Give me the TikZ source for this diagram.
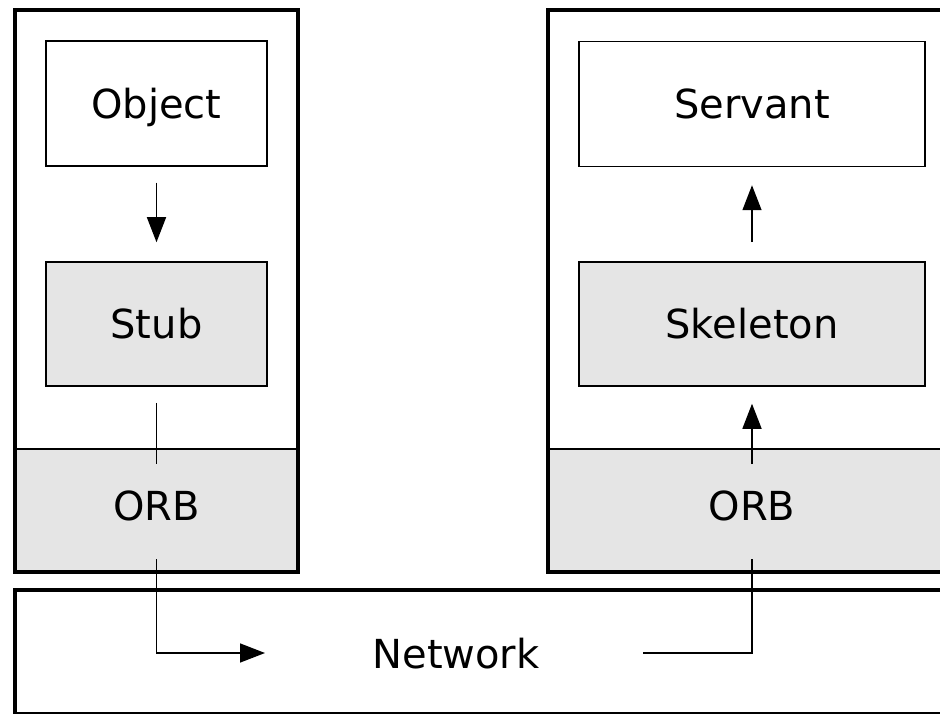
\documentclass[tikz,border=0pt]{standalone}
\usepackage{fontspec}
\setmainfont{DejaVu Sans}
\usetikzlibrary{arrows.meta,calc}
\definecolor{layergray}{HTML}{E5E5E5}
\begin{document}
\begin{tikzpicture}[x=1pt,y=-1pt,
  heavy/.style={line width=4pt},
  thinline/.style={line width=1.5pt},
  txt/.style={font=\fontsize{40}{48}\selectfont, text height=29.5pt, text depth=0pt, inner sep=0pt},
  compbox/.style={txt, draw, line width=1.5pt, minimum height=125pt},
  conn/.style={line width=1.5pt},
  arr/.style={conn, -{Triangle[length=25pt,width=19pt]}}
]
\useasboundingbox (0,0) rectangle (940,714);
\clip (0,0) rectangle (940,714);
\fill[white] (0,0) rectangle (940,714);

% left host
\fill[layergray] (15,449) rectangle (298,572);
\draw[thinline] (15,449) -- (298,449);
\draw[heavy] (15,10) rectangle (298,572);
\node[compbox, minimum width=221pt] (obj) at (156.5,103.5) {Object};
\node[compbox, minimum width=221pt, fill=layergray, minimum height=124pt] (stub) at (156.5,324) {Stub};
\node[txt] (orbL) at (156.5,506) {ORB};

% right host
\fill[layergray] (548,449) rectangle (970,572);
\draw[thinline] (548,449) -- (970,449);
\draw[heavy] (548,10) rectangle (970,572);
\node[compbox, minimum width=346pt] (serv) at (752,104) {Servant};
\node[compbox, minimum width=346pt, fill=layergray, minimum height=124pt] (skel) at (752,324) {Skeleton};
\node[txt] (orbR) at (752,506) {ORB};

% network
\draw[heavy] (15,590) rectangle (970,714);
\node[txt] (net) at (456,654) {Network};
\coordinate (nin) at (265,653);
\coordinate (nout) at (643,653);

% connectors
\draw[arr] ($(obj.south)+(0,16)$) -- ($(stub.north)+(0,-19)$);
\draw[conn] ($(stub.south)+(0,16)$) -- ($(orbL)+(0,-42)$);
\draw[arr] ($(orbL)+(0,53)$) |- (nin);
\draw[conn] (nout) -| ($(orbR)+(0,53)$);
\draw[arr] ($(orbR)+(0,-42)$) -- ($(skel.south)+(0,17)$);
\draw[arr] ($(skel.north)+(0,-19)$) -- ($(serv.south)+(0,18)$);
\end{tikzpicture}
\end{document}
